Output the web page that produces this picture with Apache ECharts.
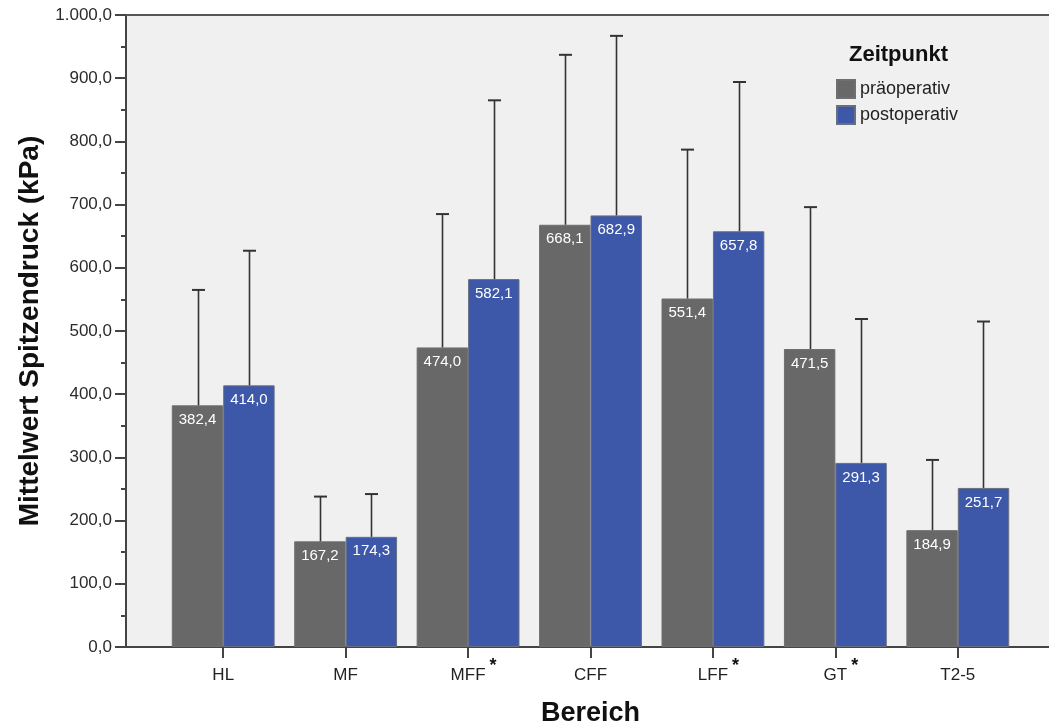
<!DOCTYPE html>
<html><head><meta charset="utf-8">
<script src="https://cdn.jsdelivr.net/npm/echarts@6/dist/echarts.min.js"></script>
<style>html,body{margin:0;padding:0;background:#fff}#c{width:1049px;height:726px}</style>
</head><body><div id="c"></div>
<script>
// ---- data ----
const categories = ['HL', 'MF', 'MFF', 'CFF', 'LFF', 'GT', 'T2-5'];
const significant = [false, false, true, false, true, true, false];
const seriesNames = ['präoperativ', 'postoperativ'];
const preMean = [382.4, 167.2, 474.0, 668.1, 551.4, 471.5, 184.9];
const postMean = [414.0, 174.3, 582.1, 682.9, 657.8, 291.3, 251.7];
const preUpper = [565, 238, 685, 937, 787, 696, 296];
const postUpper = [627, 242, 865, 967, 894, 519, 515];
const yMin = 0, yMax = 1000, yStep = 100;

const FONT = '"Liberation Sans", Arial, sans-serif';
const GAP = 0.16;

function de(v) {
  const s = v.toFixed(1).split('.');
  const intPart = s[0].replace(/\B(?=(\d{3})+(?!\d))/g, '.');
  return intPart + ',' + s[1];
}

function errRender(side) {
  return function (params, api) {
    const cat = api.value(0), mean = api.value(1), up = api.value(2);
    const band = api.size([1, 0])[0];
    const barW = band * (1 - GAP) / 2;
    const dx = side * barW / 2;
    const p0 = api.coord([cat, mean]);
    const p1 = api.coord([cat, up]);
    const x = Math.round(p0[0] + dx) + 0.5;
    const cap = 6.5;
    return {
      type: 'group',
      children: [
        { type: 'line', shape: { x1: x, y1: p0[1], x2: x, y2: p1[1] }, style: { stroke: '#333', lineWidth: 1.6 } },
        { type: 'line', shape: { x1: x - cap, y1: p1[1], x2: x + cap, y2: p1[1] }, style: { stroke: '#333', lineWidth: 2 } }
      ]
    };
  };
}

const chart = echarts.init(document.getElementById('c'), null, { renderer: 'canvas' });

const barLabel = {
  show: true, position: 'insideTop', distance: 7, color: '#fff',
  fontSize: 15, fontFamily: FONT, formatter: p => de(p.value)
};

chart.setOption({
  animation: false,
  textStyle: { fontFamily: FONT },
  title: {
    text: 'Zeitpunkt', left: 849, top: 44, padding: 0,
    textStyle: { fontSize: 22, fontWeight: 'bold', color: '#111', fontFamily: FONT }
  },
  legend: {
    orient: 'vertical', left: 836, top: 79, padding: 0,
    itemWidth: 18, itemHeight: 18, itemGap: 6, icon: 'rect',
    data: seriesNames,
    textStyle: { fontSize: 18, color: '#222', fontFamily: FONT }
  },
  grid: [
    { left: 162, right: 30, top: 15, bottom: 79, show: false, containLabel: false, outerBoundsMode: 'none' },
    { left: 126, right: 0, top: 15, bottom: 79, show: true, backgroundColor: '#f0f0f0', borderWidth: 0, z: 0, outerBoundsMode: 'none' }
  ],
  xAxis: [
    {
      type: 'category', gridIndex: 0, data: categories,
      axisLine: { show: false },
      axisTick: { show: true, alignWithLabel: true, length: 11, interval: 0, lineStyle: { color: '#444', width: 2 } },
      axisLabel: {
        interval: 0, margin: 10, color: '#222',
        formatter: (v, i) => significant[i] ? '{b|' + v + '}{s|*}' : '{a|' + v + '}',
        rich: {
          a: { fontSize: 17, color: '#222', padding: [10, 0, 0, 0], fontFamily: FONT },
          b: { fontSize: 17, color: '#222', padding: [10, 0, 0, 11], fontFamily: FONT },
          s: { fontSize: 18, fontWeight: 'bold', color: '#111', padding: [0, 0, 0, 4], verticalAlign: 'top', fontFamily: FONT }
        }
      },
      name: 'Bereich', nameLocation: 'middle', nameGap: 53,
      nameTextStyle: { fontSize: 27, fontWeight: 'bold', color: '#111', fontFamily: FONT, verticalAlign: 'top' }
    },
    {
      type: 'value', gridIndex: 1, position: 'top', min: 0, max: 1,
      axisLine: { show: true, onZero: false, lineStyle: { color: '#555', width: 2 } },
      axisTick: { show: false }, axisLabel: { show: false }, splitLine: { show: false }
    },
    {
      type: 'value', gridIndex: 1, position: 'bottom', min: 0, max: 1,
      axisLine: { show: true, onZero: false, lineStyle: { color: '#444', width: 2 } },
      axisTick: { show: false }, axisLabel: { show: false }, splitLine: { show: false }
    }
  ],
  yAxis: [
    {
      type: 'value', gridIndex: 0, min: yMin, max: yMax, interval: yStep, offset: 36,
      axisLine: { show: true, lineStyle: { color: '#444', width: 2 } },
      axisTick: { show: true, length: 11, lineStyle: { color: '#444', width: 2 } },
      minorTick: { show: true, splitNumber: 2, length: 5, lineStyle: { color: '#444', width: 2 } },
      splitLine: { show: false },
      axisLabel: { margin: 14, fontSize: 17, color: '#2b2b2b', fontFamily: FONT, formatter: v => de(v) },
      name: 'Mittelwert Spitzendruck (kPa)', nameLocation: 'middle', nameGap: 82,
      nameTextStyle: { fontSize: 28, fontWeight: 'bold', color: '#111', fontFamily: FONT }
    },
    { type: 'value', gridIndex: 1, show: false, min: 0, max: 1 }
  ],
  series: [
    {
      name: seriesNames[0], type: 'bar', xAxisIndex: 0, yAxisIndex: 0, data: preMean,
      barGap: '0%', barCategoryGap: (GAP * 100) + '%',
      itemStyle: { color: '#686868', borderColor: '#6f6f6f', borderWidth: 1 },
      label: barLabel, z: 3
    },
    {
      name: seriesNames[1], type: 'bar', xAxisIndex: 0, yAxisIndex: 0, data: postMean,
      barGap: '0%', barCategoryGap: (GAP * 100) + '%',
      itemStyle: { color: '#3d57a9', borderColor: '#6a6f80', borderWidth: 1 },
      label: barLabel, z: 3
    },
    {
      type: 'custom', xAxisIndex: 0, yAxisIndex: 0, renderItem: errRender(-1), z: 4,
      data: categories.map((c, i) => [i, preMean[i], preUpper[i]]), silent: true
    },
    {
      type: 'custom', xAxisIndex: 0, yAxisIndex: 0, renderItem: errRender(1), z: 4,
      data: categories.map((c, i) => [i, postMean[i], postUpper[i]]), silent: true
    }
  ]
});
</script>
</body></html>
